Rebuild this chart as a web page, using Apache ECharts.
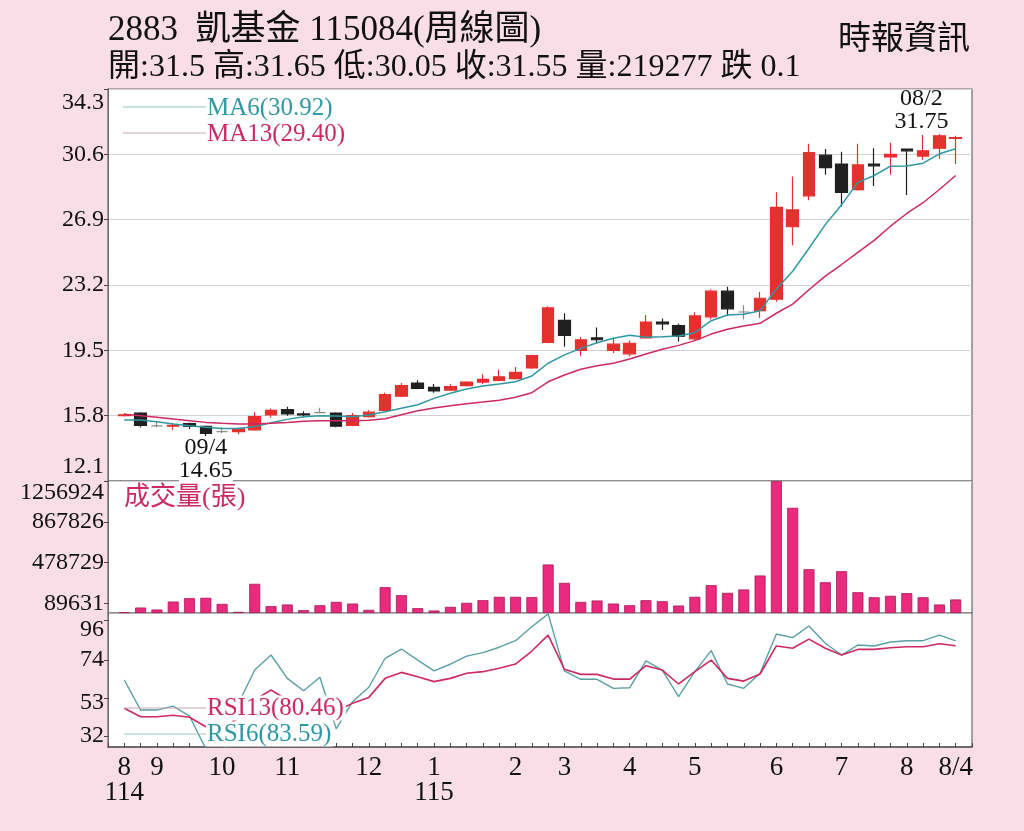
<!DOCTYPE html>
<html lang="zh-Hant">
<head>
<meta charset="UTF-8">
<title>2883 凱基金 周線圖</title>
<style>
  html, body { margin: 0; padding: 0; background: #f9dde7; }
  #chart { width: 1024px; height: 831px; }
</style>
</head>
<body>
<div id="chart"></div>
<script src="https://cdn.jsdelivr.net/npm/echarts@6/dist/echarts.min.js"></script>
<script>
// 52 weekly bars, 114/08 .. 115/08/04
const tickIndex = [0, 2, 6, 10, 15, 19, 24, 27, 31, 35, 40, 44, 48, 51];
const tickText = ['8\n114', '9', '10', '11', '12', '1\n115', '2', '3', '4', '5', '6', '7', '8', '8/4'];

const opens  = [15.8, 15.95, 15.22, 15.2, 15.35, 15.2, 14.9, 14.9, 15.0, 15.85, 16.15, 15.9, 15.97, 15.95, 15.25, 15.75, 16.1, 16.9, 17.65, 17.4, 17.25, 17.5, 17.7, 17.8, 17.9, 18.5, 19.95, 21.2, 19.5, 20.2, 19.5, 19.3, 20.2, 21.1, 20.9, 20.15, 21.4, 22.85, 21.67, 21.75, 22.4, 26.5, 28.25, 30.55, 30.05, 28.6, 30.05, 30.45, 30.9, 30.5, 30.95, 31.5];
const closes = [15.85, 15.25, 15.22, 15.25, 15.2, 14.8, 14.9, 15.05, 15.75, 16.1, 15.9, 15.85, 15.97, 15.2, 15.8, 16.0, 17.0, 17.5, 17.35, 17.2, 17.45, 17.7, 17.85, 18.0, 18.25, 19.2, 21.9, 20.35, 20.1, 20.1, 19.85, 19.9, 21.1, 21.0, 20.3, 21.45, 22.85, 21.85, 21.67, 22.45, 27.6, 27.45, 30.7, 29.85, 28.45, 30.0, 29.95, 30.6, 30.8, 30.8, 31.65, 31.55];
const lows   = [15.75, 15.15, 15.15, 15.0, 15.05, 14.65, 14.8, 14.75, 14.95, 15.7, 15.8, 15.7, 15.95, 15.15, 15.2, 15.7, 16.05, 16.85, 17.3, 17.1, 17.2, 17.45, 17.6, 17.75, 17.85, 18.45, 19.9, 19.7, 19.2, 19.9, 19.35, 19.15, 20.15, 20.65, 20.0, 20.05, 21.25, 21.45, 21.25, 21.35, 22.25, 25.45, 28.0, 29.45, 27.65, 28.55, 28.8, 29.45, 28.3, 30.3, 30.35, 30.05];
const highs  = [15.95, 16.0, 15.45, 15.4, 15.4, 15.25, 15.15, 15.15, 16.0, 16.2, 16.3, 16.05, 16.25, 16.0, 15.95, 16.1, 17.1, 17.65, 17.8, 17.6, 17.6, 17.75, 18.15, 18.4, 18.55, 19.25, 22.0, 21.6, 20.25, 20.8, 20.15, 20.05, 21.5, 21.3, 21.0, 21.65, 22.95, 23.1, 22.05, 22.8, 28.45, 29.35, 31.2, 30.9, 30.75, 31.2, 30.95, 31.25, 30.9, 31.7, 31.75, 31.65];

const ma6  = [15.55, 15.55, 15.46, 15.33, 15.23, 15.14, 15.08, 15.08, 15.18, 15.40, 15.59, 15.74, 15.80, 15.78, 15.74, 15.84, 16.02, 16.22, 16.42, 16.78, 17.07, 17.31, 17.48, 17.59, 17.72, 18.05, 18.77, 19.24, 19.61, 19.93, 20.18, 20.35, 20.24, 20.27, 20.31, 20.50, 21.18, 21.50, 21.54, 21.74, 22.98, 23.98, 25.28, 26.62, 27.75, 29.01, 29.40, 29.93, 29.94, 30.10, 30.63, 30.92];
const ma13 = [15.88, 15.80, 15.71, 15.61, 15.51, 15.42, 15.37, 15.33, 15.33, 15.37, 15.42, 15.48, 15.51, 15.51, 15.51, 15.54, 15.63, 15.85, 16.08, 16.23, 16.36, 16.48, 16.57, 16.67, 16.84, 17.10, 17.72, 18.10, 18.43, 18.63, 18.77, 19.01, 19.29, 19.56, 19.78, 20.05, 20.42, 20.69, 20.88, 21.03, 21.60, 22.12, 22.93, 23.70, 24.36, 25.05, 25.73, 26.53, 27.25, 27.86, 28.61, 29.40];

const volumes = [8000, 52000, 33000, 109000, 141000, 145000, 87000, 11000, 278000, 65000, 81000, 27000, 74000, 106000, 90000, 30000, 246000, 170000, 46000, 24000, 59000, 97000, 122000, 154000, 154000, 152000, 462000, 287000, 106000, 119000, 90000, 74000, 122000, 112000, 71000, 154000, 265000, 192000, 224000, 357000, 1256924, 1002000, 417000, 293000, 398000, 198000, 150000, 164000, 189000, 150000, 81000, 129000];

const rsi6  = [63.0, 46.4, 46.4, 48.6, 43.1, 25, 20, 50, 68.5, 76.8, 63.9, 57.1, 64.5, 36, 51.0, 59.0, 75.0, 80.1, 74.0, 68.0, 71.7, 76.2, 78.1, 81.1, 84.7, 92.4, 99.5, 68.0, 63.4, 63.4, 58.4, 58.7, 73.5, 68.5, 53.8, 67.6, 79.2, 60.8, 58.4, 66.7, 88.4, 86.4, 92.8, 83.3, 76.8, 82.3, 81.8, 84.0, 84.7, 84.7, 87.8, 84.6];
const rsi13 = [47.4, 42.7, 42.7, 43.5, 42.4, 37.2, 36, 42, 52, 57.5, 52, 49, 52, 46, 50.1, 53.4, 63.9, 67.2, 64.8, 62.1, 63.9, 66.7, 67.6, 69.5, 71.8, 79, 87.8, 68.9, 66.1, 66.1, 63.5, 63.5, 70.9, 68.5, 60.8, 67.6, 74.0, 63.9, 62.4, 66.3, 81.8, 80.5, 85.6, 80.5, 76.8, 79.9, 79.9, 80.8, 81.4, 81.4, 83.0, 81.9];

const priceTicks = [12.1, 15.8, 19.5, 23.2, 26.9, 30.6, 34.3];
const volTicks = [89631, 478729, 867826, 1256924];
const rsiTicks = [32, 53, 74, 96];

// one empty slot at each end so the first/last week sit one step in from the frame
const pad = arr => ['-'].concat(arr, ['-']);
const cats = pad(closes.map((_, i) => 'w' + i)).map((c, i) => c === '-' ? 'p' + i : c);
const candles = pad(opens.map((o, i) => [o, closes[i], lows[i], highs[i]]));

const SERIF = '"Liberation Serif", "Noto Sans CJK TC", serif';
const RED = '#e5312e', BLACK = '#202020', TEAL = '#2f98a3', CRIMSON = '#cc2a60';

function xLabel(val, idx) {
  const k = tickIndex.indexOf(idx - 1);
  return k < 0 ? '' : tickText[k];
}

const gridBase = { left: 108, right: 52, show: true, backgroundColor: '#fff', borderColor: '#6a6a6a', borderWidth: 1.2 };
const hiddenX = idx => ({
  type: 'category', gridIndex: idx, data: cats, boundaryGap: false,
  axisLine: { show: false }, axisTick: { show: false }, axisLabel: { show: false }, splitLine: { show: false }
});
const yBase = (idx, min, max, ticks, extra) => Object.assign({
  type: 'value', gridIndex: idx, min: min, max: max, scale: true,
  axisLine: { show: true, lineStyle: { color: '#6a6a6a' } },
  axisTick: { show: true, length: 4, customValues: ticks, lineStyle: { color: '#444' } },
  axisLabel: { customValues: ticks, color: '#111', fontFamily: SERIF, fontSize: 24, margin: 4 },
  splitLine: { show: false }
}, extra || {});

const chart = echarts.init(document.getElementById('chart'));
chart.setOption({
  animation: false,
  backgroundColor: '#f9dde7',
  grid: [
    Object.assign({ top: 89, height: 392 }, gridBase),
    Object.assign({ top: 481, height: 132 }, gridBase),
    Object.assign({ top: 613, height: 134 }, gridBase)
  ],
  xAxis: [
    hiddenX(0),
    hiddenX(1),
    {
      type: 'category', gridIndex: 2, data: cats, boundaryGap: false,
      axisLine: { show: true, lineStyle: { color: '#555', width: 1.5 } },
      axisTick: { show: true, inside: true, length: 4, interval: 0, lineStyle: { color: '#444' } },
      axisLabel: { interval: 0, formatter: xLabel, color: '#111', fontFamily: SERIF, fontSize: 27, lineHeight: 25, margin: 8 },
      splitLine: { show: false }
    }
  ],
  yAxis: [
    yBase(0, 12.1, 34.3, priceTicks, {
      splitLine: { show: true, lineStyle: { color: '#d2d2d2', width: 1.2 } },
      axisLabel: {
        customValues: priceTicks, color: '#111', fontFamily: SERIF, fontSize: 24, margin: 4,
        formatter: v => v === 34.3 ? '{t|34.3}' : v === 12.1 ? '{b|12.1}' : String(v),
        rich: { t: { padding: [28, 0, 0, 0], fontSize: 24, fontFamily: SERIF }, b: { padding: [0, 0, 28, 0], fontSize: 24, fontFamily: SERIF } }
      }
    }),
    yBase(1, 0, 1256924, volTicks, {
      axisLabel: {
        customValues: volTicks, color: '#111', fontFamily: SERIF, fontSize: 24, margin: 4,
        formatter: v => v === 1256924 ? '{t|1256924}' : String(v),
        rich: { t: { padding: [24, 0, 0, 0], fontSize: 24, fontFamily: SERIF } }
      }
    }),
    yBase(2, 26, 100, rsiTicks, {
      axisLabel: {
        customValues: rsiTicks, color: '#111', fontFamily: SERIF, fontSize: 24, margin: 4,
        formatter: v => v === 96 ? '{t|96}' : v === 53 ? '{m|53}' : String(v),
        rich: { t: { padding: [18, 0, 0, 0], fontSize: 24, fontFamily: SERIF }, m: { padding: [10, 0, 0, 0], fontSize: 24, fontFamily: SERIF } }
      }
    })
  ],
  series: [
    {
      name: 'K', type: 'candlestick', xAxisIndex: 0, yAxisIndex: 0, data: candles, barWidth: 12,
      itemStyle: { color: RED, color0: BLACK, borderColor: RED, borderColor0: BLACK, borderColorDoji: '#8a8a8a', borderWidth: 1.2 },
      markPoint: {
        symbol: 'circle', symbolSize: 1, itemStyle: { color: 'rgba(0,0,0,0)' },
        label: { color: '#111', fontFamily: SERIF, fontSize: 24, lineHeight: 23 },
        data: [
          { coord: [6, 14.65], label: { position: 'bottom', distance: 0, formatter: '09/4\n14.65', backgroundColor: '#fff' } },
          { coord: [51, 31.75], label: { position: 'top', distance: 0, offset: [-18, 0], formatter: '08/2\n31.75' } }
        ]
      }
    },
    { name: 'MA6', type: 'line', xAxisIndex: 0, yAxisIndex: 0, data: pad(ma6), symbol: 'none', lineStyle: { color: TEAL, width: 1.5 }, z: 3 },
    { name: 'MA13', type: 'line', xAxisIndex: 0, yAxisIndex: 0, data: pad(ma13), symbol: 'none', lineStyle: { color: CRIMSON, width: 1.5 }, z: 3 },
    {
      name: '成交量', type: 'bar', xAxisIndex: 1, yAxisIndex: 1, data: pad(volumes), barWidth: 11,
      itemStyle: { color: '#ea2a7c', borderColor: '#a81a58', borderWidth: 0.8 }
    },
    { name: 'RSI6', type: 'line', xAxisIndex: 2, yAxisIndex: 2, data: pad(rsi6), symbol: 'none', lineStyle: { color: '#5a9fa3', width: 1.4 } },
    { name: 'RSI13', type: 'line', xAxisIndex: 2, yAxisIndex: 2, data: pad(rsi13), symbol: 'none', lineStyle: { color: CRIMSON, width: 1.6 } }
  ],
  graphic: [
    { type: 'text', x: 108, y: 31, z: 100, style: { text: '2883  凱基金 115084(周線圖)', font: '35px ' + SERIF, fill: '#111', verticalAlign: 'middle' } },
    { type: 'text', x: 108, y: 68, z: 100, style: { text: '開:31.5 高:31.65 低:30.05 收:31.55 量:219277 跌 0.1', font: '32px ' + SERIF, fill: '#111', verticalAlign: 'middle' } },
    { type: 'text', x: 970, y: 40, z: 100, style: { text: '時報資訊', font: '33px ' + SERIF, fill: '#111', align: 'right', verticalAlign: 'middle' } },

    { type: 'line', z: 100, shape: { x1: 123, y1: 107, x2: 206, y2: 107 }, style: { stroke: '#9cc3c6', lineWidth: 1.2 } },
    { type: 'line', z: 100, shape: { x1: 123, y1: 133, x2: 206, y2: 133 }, style: { stroke: '#c9a6b4', lineWidth: 1.2 } },
    { type: 'text', x: 207, y: 108, z: 100, style: { text: 'MA6(30.92)', font: '25px ' + SERIF, fill: TEAL, verticalAlign: 'middle' } },
    { type: 'text', x: 207, y: 134, z: 100, style: { text: 'MA13(29.40)', font: '25px ' + SERIF, fill: CRIMSON, verticalAlign: 'middle' } },

    { type: 'text', x: 124, y: 498, z: 100, style: { text: '成交量(張)', font: '26px ' + SERIF, fill: CRIMSON, verticalAlign: 'middle' } },

    { type: 'line', z: 100, shape: { x1: 124, y1: 708, x2: 206, y2: 708 }, style: { stroke: '#c9a6b4', lineWidth: 1.2 } },
    { type: 'line', z: 100, shape: { x1: 124, y1: 734, x2: 206, y2: 734 }, style: { stroke: '#9cc3c6', lineWidth: 1.2 } },
    { type: 'text', x: 206, y: 708, z: 100, style: { text: 'RSI13(80.46)', font: '25px ' + SERIF, fill: CRIMSON, verticalAlign: 'middle', backgroundColor: '#fff', padding: [0, 2, 0, 1] } },
    { type: 'text', x: 206, y: 734, z: 100, style: { text: 'RSI6(83.59)', font: '25px ' + SERIF, fill: TEAL, verticalAlign: 'middle', backgroundColor: '#fff', padding: [0, 2, 0, 1] } }
  ]
});
</script>
</body>
</html>
